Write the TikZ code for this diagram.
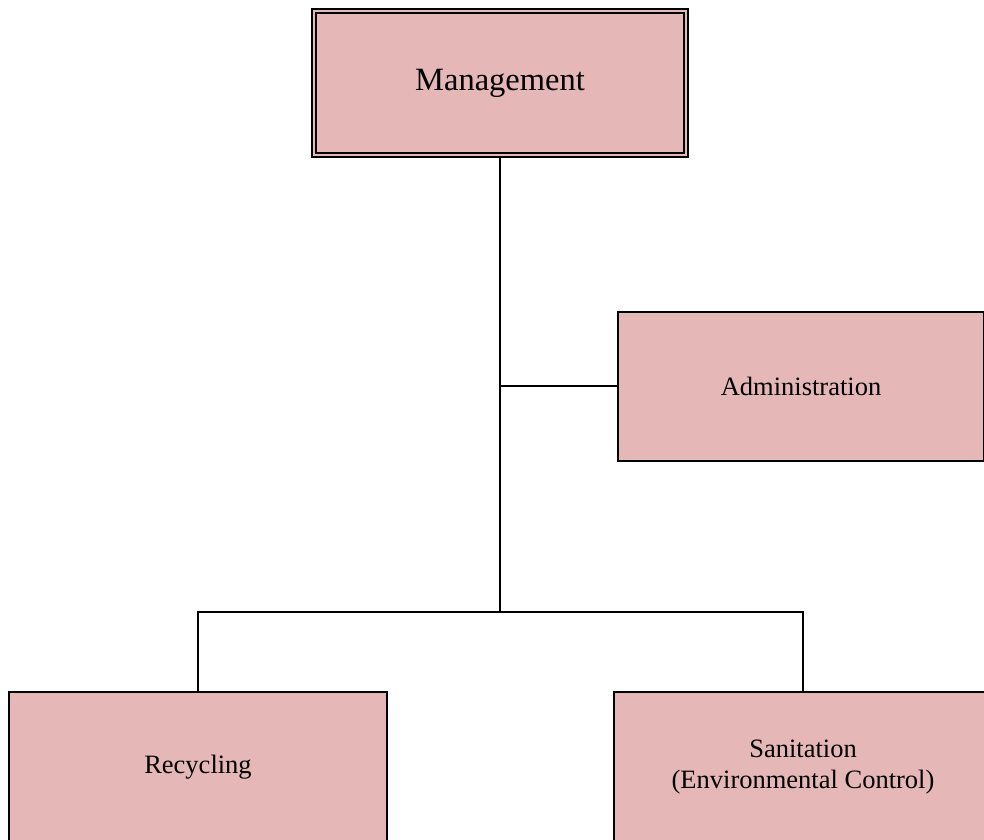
\documentclass[tikz,border=0pt]{standalone}
\usepackage{fontspec}
\setmainfont{Liberation Serif}
\usepackage{xcolor}
\usepackage{tikz}
\usetikzlibrary{positioning, calc}
\definecolor{boxpink}{RGB}{229,184,183}
\definecolor{boxline}{RGB}{0,0,0}
\tikzset{
  unit/.style={rectangle, draw=boxline, fill=boxpink,
    minimum width=378pt, minimum height=150pt, align=center,
    font=\fontsize{26.5}{31.5}\selectfont, line width=1.5pt, inner sep=0pt},
  headunit/.style={unit, double=boxpink, double distance=2.2pt,
    line width=1.7pt, minimum width=372pt, minimum height=144pt,
    font=\fontsize{32.5}{37}\selectfont},
  line/.style={line width=1.5pt, color=boxline}
}
\begin{document}
\begin{tikzpicture}[x=1pt, y=-1pt]
  \useasboundingbox (0,0) rectangle (984,839);
  \clip (0,0) rectangle (984,839);

  \node[headunit] (mgmt) at (500,83) {Management};
  \node[unit, minimum width=366pt, minimum height=149pt] (admin) at (801,386.5) {Administration};
  \node[unit] (recy) at (198,767) {Recycling};
  \node[unit] (sani) at (803,767) {Sanitation\\(Environmental Control)};

  \coordinate (branch) at (500,386);
  \coordinate (bus) at (500,612);

  % Paths
  \draw[line] (mgmt.south) -- (bus);
  \draw[line] (branch) -- (admin.west |- branch);
  \draw[line] (recy.north) |- (bus) -| (sani.north);
\end{tikzpicture}
\end{document}
